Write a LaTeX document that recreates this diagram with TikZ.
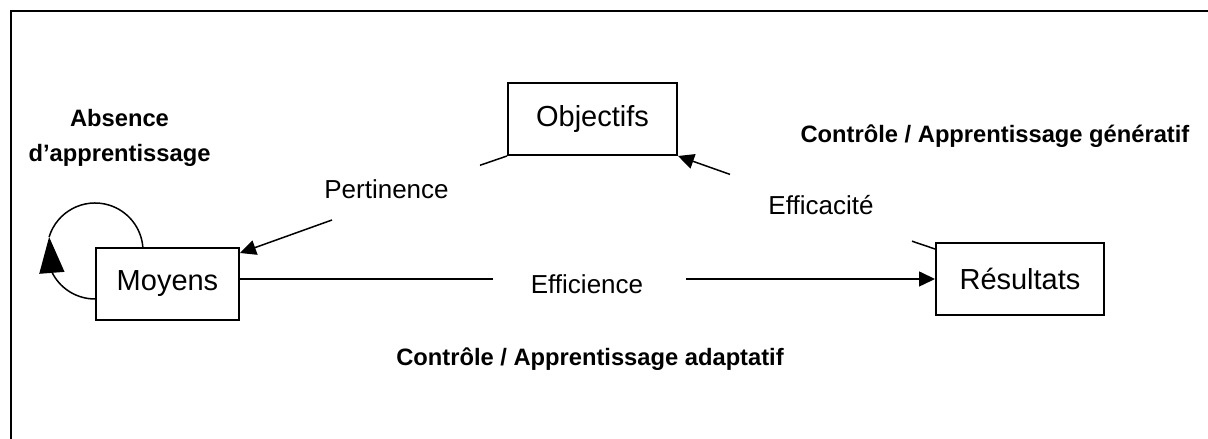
\documentclass[tikz,border=0pt]{standalone}
\usepackage{fontspec}
\setmainfont{Liberation Sans}
\usetikzlibrary{arrows.meta,bending}

\begin{document}
\begin{tikzpicture}[x=0.02cm, y=0.02cm]
\tikzset{boite/.style={draw, line width=0.04cm, inner sep=0pt, minimum height=1.44cm, font=\fontsize{16.5}{20}\selectfont}}
\tikzset{etiq/.style={anchor=base, inner sep=0pt, font=\fontsize{14.8}{18}\selectfont}}
\tikzset{gras/.style={anchor=base, inner sep=0pt, font=\fontsize{13.5}{16}\selectfont\bfseries}}
\tikzset{trait/.style={line width=0.03cm}}
\tikzset{fleche/.style={trait, -{Triangle[length=0.32cm, width=0.3cm]}}}
\useasboundingbox (0,0) rectangle (1208,439);
\draw[line width=0.04cm] (11,0) -- (11,428) -- (1208,428);
\node[boite, minimum width=3.38cm] (Objectifs) at (592.5,320) {Objectifs};
\node[boite, minimum width=2.86cm] (Moyens) at (167.5,155) {Moyens};
\node[boite, minimum width=3.36cm] (Resultats) at (1020,160) {Résultats};
\node[etiq] (Pertinence) at (386.5,240) {Pertinence};
\node[etiq] (Efficacite) at (821,224) {Efficacité};
\node[etiq] (Efficience) at (587,145) {Efficience};
\node[gras] (Absence) at (119.5,312) {Absence};
\node[gras] (Apprent) at (119.5,277) {d’apprentissage};
\node[gras] (Generatif) at (995,296) {Contrôle / Apprentissage génératif};
\node[gras] (Adaptatif) at (590,73) {Contrôle / Apprentissage adaptatif};
\coordinate (P1) at (480,273.7);
\coordinate (P2) at (332,219);
\coordinate (E1) at (730,264.6);
\coordinate (E2) at (912,197.8);
\coordinate (C1) at (493,160);
\coordinate (C2) at (686,160);
\draw[trait] (Objectifs.south west) -- (P1);
\draw[fleche] (P2) -- ([yshift=-0.12cm]Moyens.north east);
\draw[trait] ([yshift=-0.14cm]Resultats.north west) -- (E2);
\draw[fleche] (E1) -- (Objectifs.south east);
\draw[trait] (Moyens.east |- Resultats.west) -- (C1);
\draw[fleche] (C2) -- (Resultats.west);
\draw[trait, -{Triangle[length=0.72cm, width=0.5cm]}] ([yshift=-0.3cm]Moyens.west) arc[start angle=270, end angle=163, radius=48] coordinate (B1);
\draw[trait] (B1) arc[start angle=163, end angle=5, radius=48];
\end{tikzpicture}
\end{document}
